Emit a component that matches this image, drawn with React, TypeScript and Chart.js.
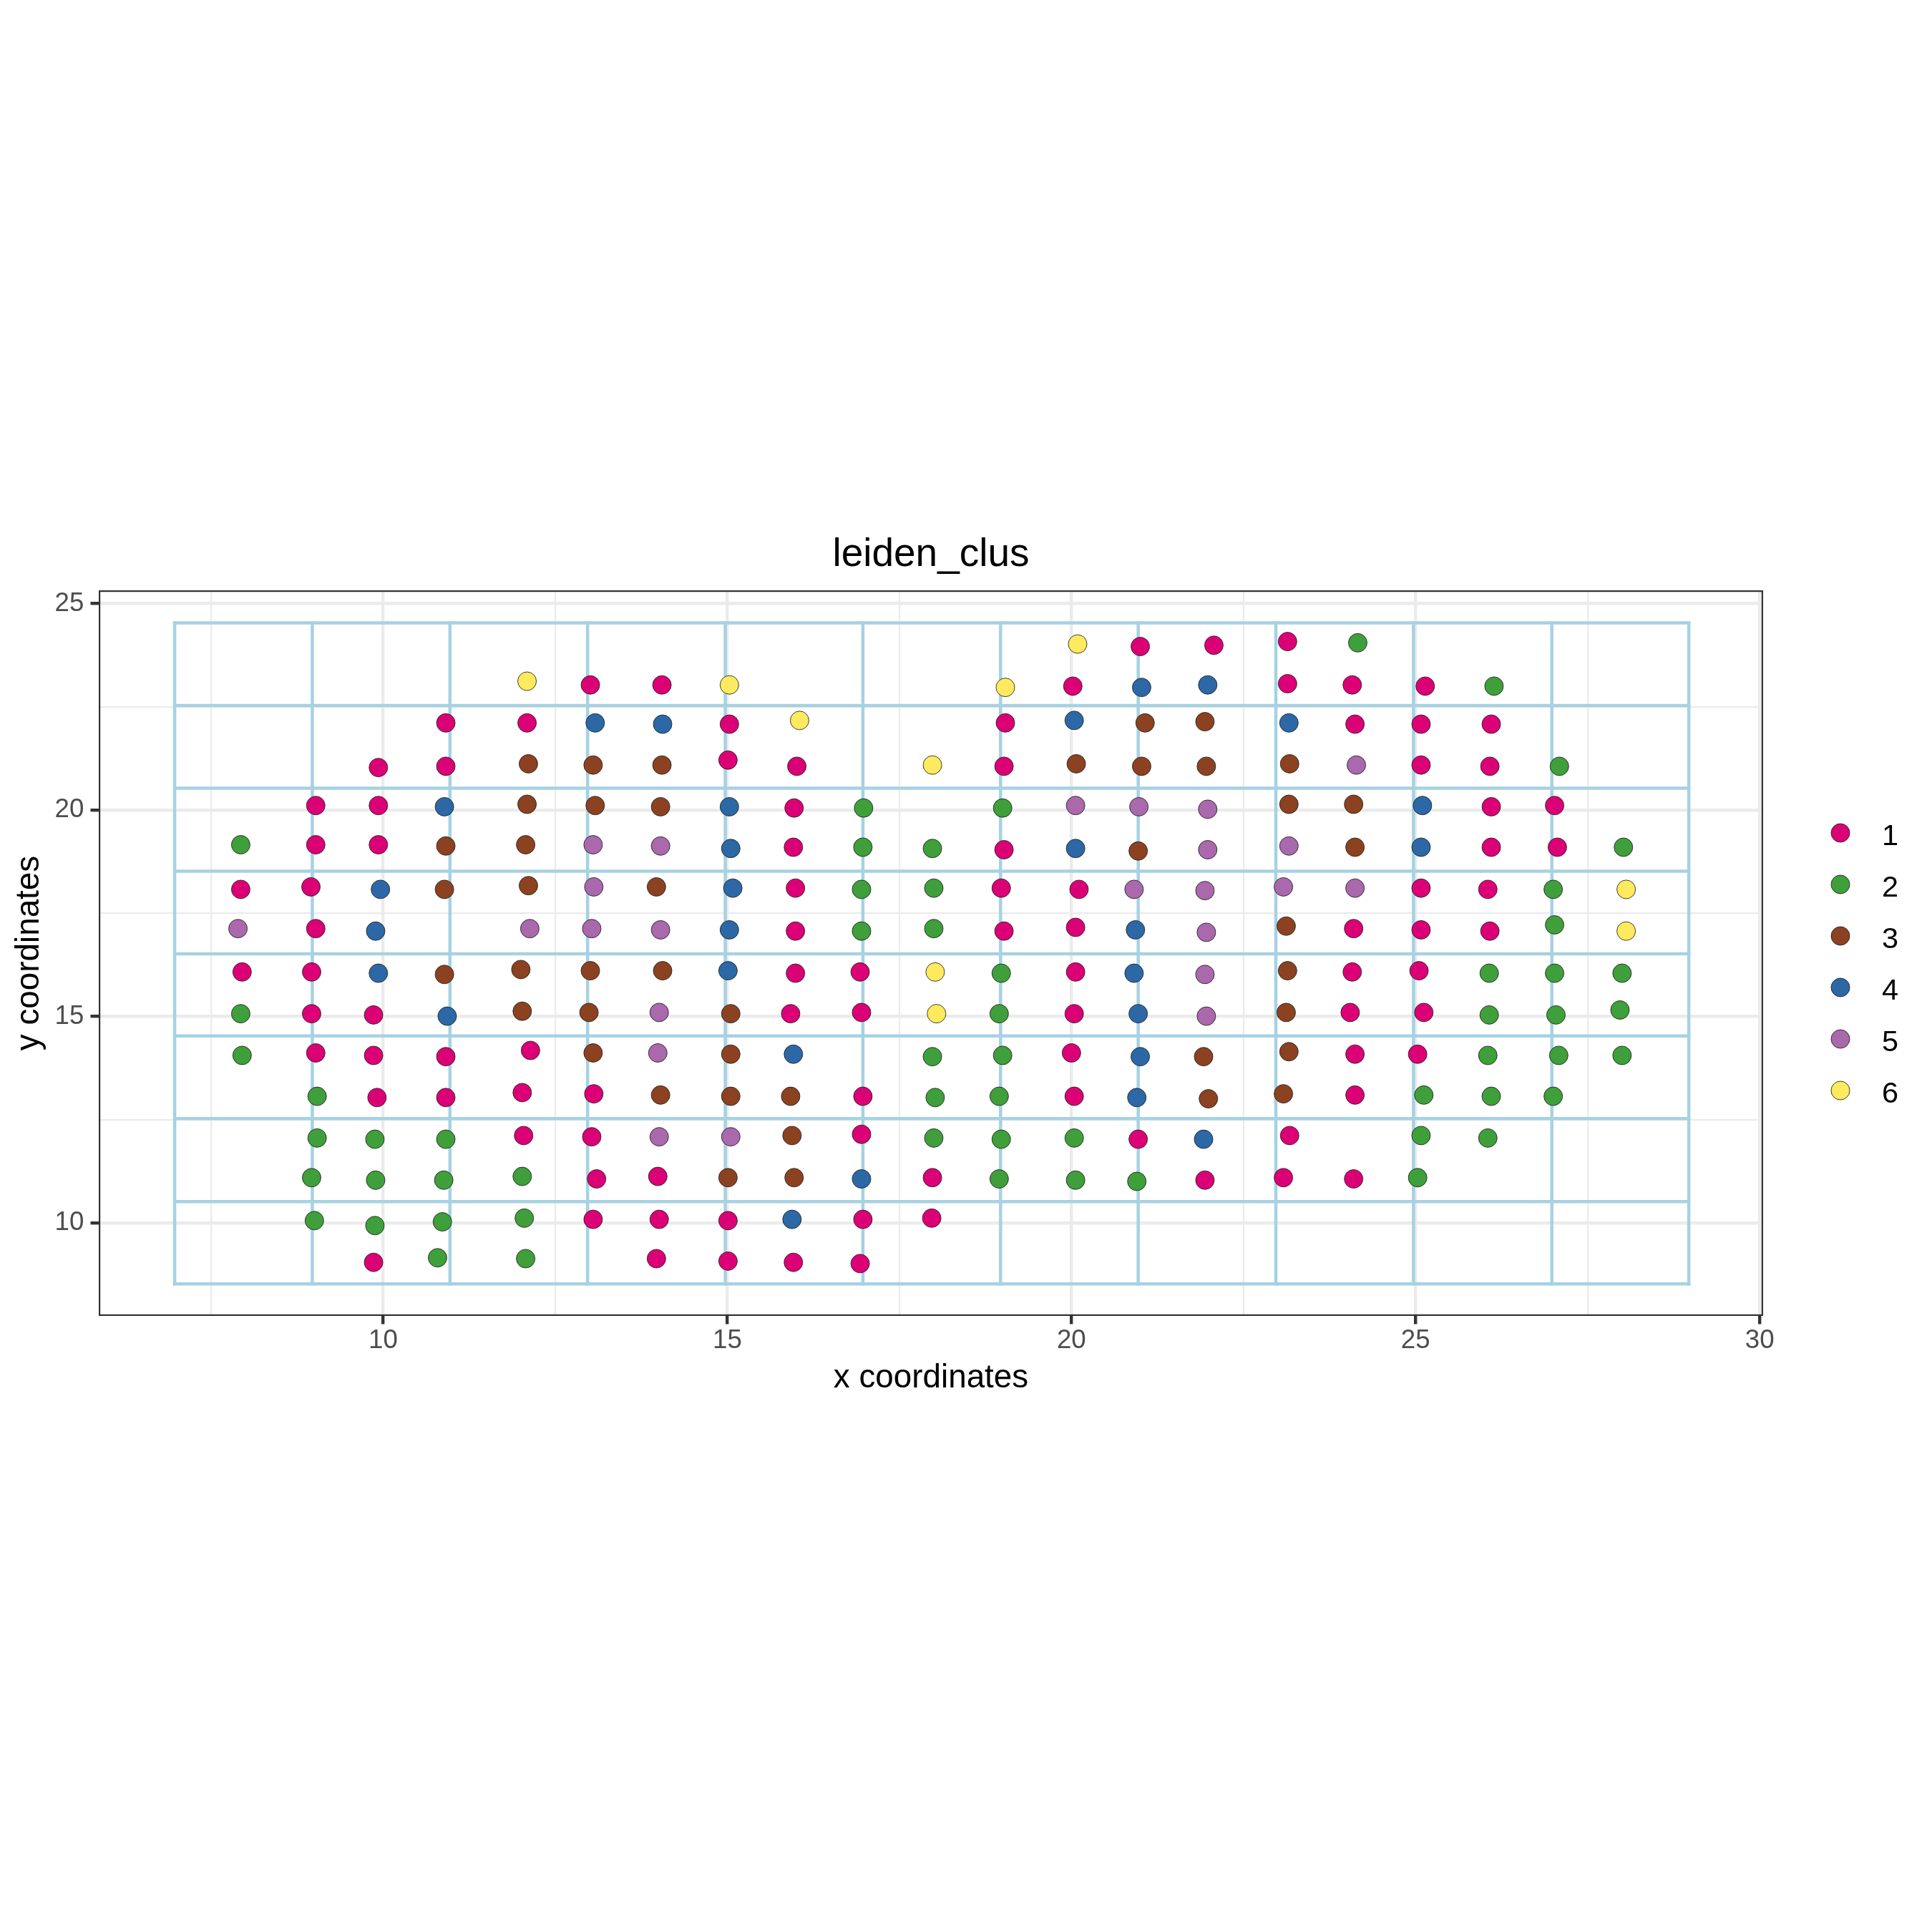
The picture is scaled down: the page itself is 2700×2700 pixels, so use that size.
import React, { useEffect, useRef } from 'react';
import { Chart, registerables } from 'chart.js';

Chart.register(...registerables);

// ---------------- data ----------------
const chartTitle = 'leiden_clus';
const xAxisTitle = 'x coordinates';
const yAxisTitle = 'y coordinates';

const clusterLabels = ['1', '2', '3', '4', '5', '6'];
const clusterColors = ['#DC0076', '#3F9F3B', '#8C4220', '#2C68A6', '#AA68AD', '#FEEA5E'];

const cluster1: [number, number][] = [
  [21.00, 23.96], [22.07, 23.99], [23.14, 24.08],
  [13.01, 23.03], [14.05, 23.03], [20.02, 23.00], [23.14, 23.06], [24.08, 23.03], [25.14, 23.00],
  [10.91, 22.11], [12.09, 22.11], [15.03, 22.08], [19.04, 22.11], [24.12, 22.08], [25.08, 22.08], [26.10, 22.08],
  [9.93, 21.03], [10.91, 21.06], [15.01, 21.21], [16.01, 21.06], [19.02, 21.06], [25.08, 21.09], [26.08, 21.06],
  [9.02, 20.11], [9.93, 20.11], [15.97, 20.05], [26.10, 20.08], [27.02, 20.11],
  [9.02, 19.16], [9.93, 19.16], [15.96, 19.10], [19.02, 19.04], [26.10, 19.10], [27.06, 19.10],
  [7.93, 18.08], [8.95, 18.14], [15.99, 18.11], [18.98, 18.11], [20.11, 18.08], [25.08, 18.11], [26.05, 18.08],
  [9.02, 17.13], [15.99, 17.07], [19.02, 17.07], [20.06, 17.16], [24.10, 17.13], [25.08, 17.10], [26.08, 17.07],
  [7.95, 16.08], [8.96, 16.08], [15.99, 16.05], [16.93, 16.08], [20.06, 16.08], [24.08, 16.08], [25.05, 16.11],
  [8.96, 15.07], [9.86, 15.04], [15.92, 15.07], [16.95, 15.10], [20.04, 15.07], [24.05, 15.10], [25.12, 15.10],
  [9.02, 14.12], [9.86, 14.06], [10.91, 14.03], [12.14, 14.18], [20.00, 14.12], [24.12, 14.09], [25.03, 14.09],
  [9.91, 13.04], [10.91, 13.04], [12.02, 13.16], [13.06, 13.13], [16.97, 13.07], [20.04, 13.07], [24.12, 13.10],
  [12.04, 12.12], [13.03, 12.09], [16.95, 12.15], [20.97, 12.03], [23.17, 12.12],
  [13.10, 11.07], [13.99, 11.13], [17.98, 11.10], [21.94, 11.04], [23.08, 11.10], [24.10, 11.07],
  [13.05, 10.09], [14.01, 10.09], [15.01, 10.06], [16.97, 10.09], [17.97, 10.12],
  [9.86, 9.05], [13.97, 9.14], [15.01, 9.08], [15.96, 9.05], [16.93, 9.02],
];

const cluster2: [number, number][] = [
  [24.16, 24.05], [26.14, 23.00], [27.09, 21.06], [16.98, 20.05], [19.00, 20.05],
  [7.93, 19.16], [16.97, 19.10], [17.98, 19.07], [28.02, 19.10],
  [16.95, 18.08], [18.00, 18.11], [27.00, 18.08],
  [16.95, 17.07], [18.00, 17.13], [27.02, 17.22],
  [18.98, 16.05], [26.07, 16.05], [27.02, 16.05], [28.00, 16.05],
  [7.93, 15.07], [18.95, 15.07], [26.07, 15.04], [27.04, 15.04], [27.97, 15.16],
  [7.95, 14.06], [17.98, 14.03], [19.00, 14.06], [26.05, 14.06], [27.08, 14.06], [28.00, 14.06],
  [9.04, 13.07], [18.02, 13.04], [18.95, 13.07], [25.12, 13.10], [26.10, 13.07], [27.00, 13.07],
  [9.04, 12.06], [9.88, 12.03], [10.91, 12.03], [18.00, 12.06], [18.98, 12.03], [20.04, 12.06], [25.08, 12.12], [26.05, 12.06],
  [8.96, 11.10], [9.89, 11.04], [10.88, 11.04], [12.02, 11.13], [18.95, 11.07], [20.06, 11.04], [20.95, 11.01], [25.03, 11.10],
  [9.00, 10.06], [9.88, 9.94], [10.86, 10.03], [12.05, 10.12],
  [10.79, 9.16], [12.07, 9.14],
];

const cluster3: [number, number][] = [
  [21.07, 22.11], [21.94, 22.14],
  [12.11, 21.12], [13.05, 21.09], [14.05, 21.09], [20.07, 21.12], [21.02, 21.06], [21.96, 21.06], [23.17, 21.12],
  [12.09, 20.14], [13.08, 20.11], [14.03, 20.08], [23.16, 20.14], [24.10, 20.14],
  [10.91, 19.13], [12.07, 19.16], [20.97, 19.01], [24.12, 19.10],
  [10.89, 18.08], [12.11, 18.17], [13.97, 18.14],
  [23.12, 17.19],
  [10.89, 16.02], [12.00, 16.14], [13.01, 16.11], [14.06, 16.11], [23.14, 16.11],
  [12.02, 15.13], [12.99, 15.10], [15.05, 15.07], [23.12, 15.10],
  [13.05, 14.12], [15.05, 14.09], [21.92, 14.03], [23.16, 14.15],
  [14.03, 13.10], [15.05, 13.07], [15.92, 13.07], [21.99, 13.01], [23.08, 13.13],
  [15.94, 12.12],
  [15.01, 11.10], [15.97, 11.10],
];

const cluster4: [number, number][] = [
  [21.02, 22.97], [21.98, 23.03],
  [13.08, 22.11], [14.06, 22.08], [20.04, 22.17], [23.16, 22.11],
  [10.89, 20.08], [15.03, 20.08], [25.10, 20.11],
  [15.05, 19.07], [20.06, 19.07], [25.08, 19.10],
  [9.96, 18.08], [15.08, 18.11],
  [9.89, 17.07], [15.03, 17.10], [20.93, 17.10],
  [9.93, 16.05], [15.01, 16.11], [20.91, 16.05],
  [10.93, 15.01], [20.97, 15.07],
  [15.96, 14.09], [21.00, 14.03],
  [20.95, 13.04],
  [21.92, 12.03],
  [16.95, 11.07],
  [15.94, 10.09],
];

const cluster5: [number, number][] = [
  [24.14, 21.09],
  [20.06, 20.11], [20.98, 20.08], [21.98, 20.02],
  [13.05, 19.16], [14.03, 19.13], [21.98, 19.04], [23.16, 19.13],
  [13.06, 18.14], [20.91, 18.08], [21.94, 18.05], [23.08, 18.14], [24.12, 18.11],
  [7.89, 17.13], [12.13, 17.13], [13.03, 17.13], [14.03, 17.10], [21.96, 17.04],
  [21.94, 16.02],
  [14.01, 15.10], [21.96, 15.01],
  [13.99, 14.12],
  [14.01, 12.09], [15.05, 12.09],
];

const cluster6: [number, number][] = [
  [20.09, 24.02], [12.09, 23.12], [15.03, 23.03], [19.04, 22.97], [16.05, 22.17],
  [17.98, 21.09], [28.06, 18.08], [28.06, 17.07], [18.02, 16.08], [18.04, 15.07],
];

const clusterPoints = [cluster1, cluster2, cluster3, cluster4, cluster5, cluster6];

const xLimits = [5.867, 30.05];
const yLimits = [7.753, 25.32];
const xMajorTicks = [10, 15, 20, 25, 30];
const xMinorTicks = [7.5, 12.5, 17.5, 22.5, 27.5];
const yMajorTicks = [10, 15, 20, 25];
const yMinorTicks = [12.5, 17.5, 22.5];

const gridXEdges = [6.97, 8.97, 10.97, 12.97, 14.97, 16.97, 18.97, 20.97, 22.97, 24.97, 26.98, 28.97];
const gridYEdges = [8.53, 10.52, 12.53, 14.53, 16.52, 18.52, 20.53, 22.53, 24.53];

// ---------------- style ----------------
const FONT = "'Liberation Sans', Arial, Helvetica, sans-serif";
const CANVAS = 2700;
const AREA = { left: 138, right: 2464, top: 825, bottom: 1839 };
const X_SCALE_H = 115;
const GRID_BLUE = '#A6D2E2';
const PANEL_GRID = '#EBEBEB';
const AXIS_DARK = '#333333';
const POINT_EDGE = 'rgba(30,30,30,0.85)';

const panelBorder = {
  id: 'panelBorder',
  afterDatasetsDraw(chart: any) {
    const { ctx, chartArea } = chart;
    ctx.save();
    ctx.strokeStyle = AXIS_DARK;
    ctx.lineWidth = 2.2;
    ctx.strokeRect(
      chartArea.left + 1.1,
      chartArea.top + 1.1,
      chartArea.right - chartArea.left - 2.2,
      chartArea.bottom - chartArea.top - 2.2
    );
    ctx.restore();
  },
};

const clusterLegend = {
  id: 'clusterLegend',
  afterDraw(chart: any) {
    const { ctx, chartArea } = chart;
    const cx = chartArea.right + 108;
    const tx = chartArea.right + 166;
    const step = 72;
    const midY = (chartArea.top + chartArea.bottom) / 2 + 12;
    const y0 = midY - step * (clusterLabels.length - 1) / 2;
    ctx.save();
    clusterLabels.forEach((lab, i) => {
      const cy = y0 + i * step;
      ctx.beginPath();
      ctx.arc(cx, cy, 13, 0, Math.PI * 2);
      ctx.fillStyle = clusterColors[i];
      ctx.fill();
      ctx.lineWidth = 1;
      ctx.strokeStyle = POINT_EDGE;
      ctx.stroke();
      ctx.fillStyle = '#000000';
      ctx.font = `41.5px ${FONT}`;
      ctx.textAlign = 'left';
      ctx.textBaseline = 'alphabetic';
      ctx.fillText(lab, tx, cy + 16.6);
    });
    ctx.restore();
  },
};

function buildConfig(): any {
  const xTicks = [...xMajorTicks, ...xMinorTicks].sort((a, b) => a - b);
  const yTicks = [...yMajorTicks, ...yMinorTicks].sort((a, b) => a - b);

  const lineStyle = {
    showLine: true,
    borderColor: GRID_BLUE,
    borderWidth: 4.5,
    borderCapStyle: 'square',
    pointRadius: 0,
    pointHoverRadius: 0,
    fill: false,
    tension: 0,
    order: 1,
  };
  const yLo = gridYEdges[0];
  const yHi = gridYEdges[gridYEdges.length - 1];
  const xLo = gridXEdges[0];
  const xHi = gridXEdges[gridXEdges.length - 1];
  const gridDatasets = [
    ...gridXEdges.map((x) => ({ label: 'grid', data: [{ x, y: yLo }, { x, y: yHi }], ...lineStyle })),
    ...gridYEdges.map((y) => ({ label: 'grid', data: [{ x: xLo, y }, { x: xHi, y }], ...lineStyle })),
  ];

  const pointDatasets = clusterPoints.map((pts, i) => ({
    label: clusterLabels[i],
    data: pts.map(([x, y]) => ({ x, y })),
    backgroundColor: clusterColors[i],
    borderColor: POINT_EDGE,
    pointBackgroundColor: clusterColors[i],
    pointBorderColor: POINT_EDGE,
    pointRadius: 13,
    pointHoverRadius: 13,
    pointBorderWidth: 1,
    borderWidth: 1,
    showLine: false,
    order: 0,
  }));

  const tickFont = { family: FONT, size: 36.7, weight: 'normal' };
  const titleFont = { family: FONT, size: 45.8, weight: 'normal', lineHeight: 1.2 };

  return {
    type: 'scatter',
    data: { datasets: [...pointDatasets, ...gridDatasets] },
    options: {
      responsive: false,
      maintainAspectRatio: false,
      animation: false,
      devicePixelRatio: 1,
      events: [],
      layout: {
        padding: {
          left: 0,
          top: 0,
          right: CANVAS - AREA.right,
          bottom: CANVAS - AREA.bottom - X_SCALE_H,
        },
      },
      plugins: {
        legend: { display: false },
        tooltip: { enabled: false },
        title: {
          display: true,
          text: chartTitle,
          fullSize: false,
          color: '#000000',
          font: { family: FONT, size: 55, weight: 'normal', lineHeight: 1.2 },
          padding: { top: 742.5, bottom: 16.5 },
        },
      },
      scales: {
        x: {
          type: 'linear',
          position: 'bottom',
          min: xLimits[0],
          max: xLimits[1],
          bounds: 'ticks',
          afterBuildTicks: (scale: any) => {
            scale.ticks = xTicks.map((v) => ({ value: v }));
          },
          afterFit: (scale: any) => {
            scale.height = X_SCALE_H;
          },
          border: { display: false },
          grid: {
            color: PANEL_GRID,
            lineWidth: (c: any) => (c.tick && xMajorTicks.includes(c.tick.value) ? 4.4 : 2.2),
            drawTicks: true,
            tickLength: 11.5,
            tickWidth: 4.4,
            tickColor: (c: any) => (c.tick && xMajorTicks.includes(c.tick.value) ? AXIS_DARK : 'rgba(0,0,0,0)'),
          },
          ticks: {
            autoSkip: false,
            maxRotation: 0,
            minRotation: 0,
            padding: 1.5,
            color: '#4D4D4D',
            font: tickFont,
            callback: (v: any) => (xMajorTicks.includes(v) ? String(v) : ''),
          },
          title: {
            display: true,
            text: xAxisTitle,
            color: '#000000',
            font: titleFont,
            padding: { top: 0, bottom: 0 },
          },
        },
        y: {
          type: 'linear',
          position: 'left',
          min: yLimits[0],
          max: yLimits[1],
          bounds: 'ticks',
          afterBuildTicks: (scale: any) => {
            scale.ticks = yTicks.map((v) => ({ value: v }));
          },
          afterFit: (scale: any) => {
            scale.width = AREA.left;
          },
          border: { display: false },
          grid: {
            color: PANEL_GRID,
            lineWidth: (c: any) => (c.tick && yMajorTicks.includes(c.tick.value) ? 4.4 : 2.2),
            drawTicks: true,
            tickLength: 11.5,
            tickWidth: 4.4,
            tickColor: (c: any) => (c.tick && yMajorTicks.includes(c.tick.value) ? AXIS_DARK : 'rgba(0,0,0,0)'),
          },
          ticks: {
            autoSkip: false,
            padding: 9.2,
            color: '#4D4D4D',
            font: tickFont,
            callback: (v: any) => (yMajorTicks.includes(v) ? String(v) : ''),
          },
          title: {
            display: true,
            text: yAxisTitle,
            color: '#000000',
            font: titleFont,
            padding: { top: 14, bottom: 0 },
          },
        },
      },
    },
    plugins: [panelBorder, clusterLegend],
  };
}

export default function App() {
  const canvasRef = useRef<HTMLCanvasElement | null>(null);

  useEffect(() => {
    if (!canvasRef.current) return;
    Chart.defaults.font.family = FONT;
    const chart = new Chart(canvasRef.current, buildConfig());
    return () => {
      chart.destroy();
    };
  }, []);

  return (
    <div
      style={{
        position: 'absolute',
        left: 0,
        top: 0,
        width: CANVAS,
        height: CANVAS,
        background: '#ffffff',
      }}
    >
      <canvas
        ref={canvasRef}
        width={CANVAS}
        height={CANVAS}
        style={{ width: CANVAS, height: CANVAS, display: 'block' }}
      />
    </div>
  );
}
